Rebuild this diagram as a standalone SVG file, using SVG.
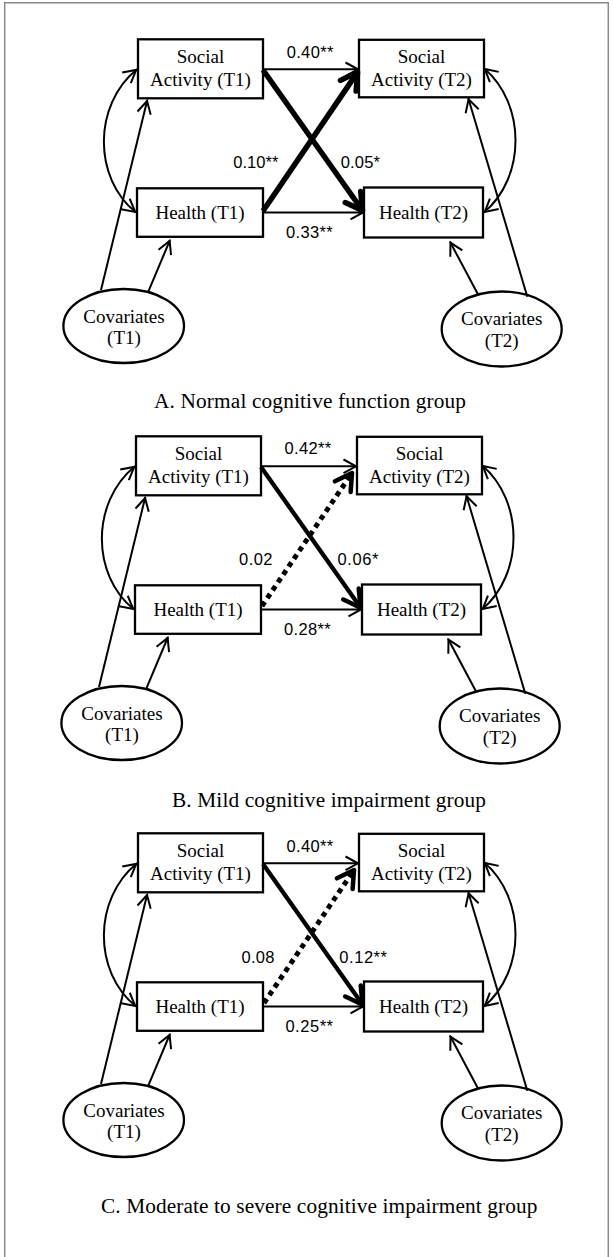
<svg xmlns="http://www.w3.org/2000/svg" width="613" height="1257" viewBox="0 0 613 1257">
<defs>
<style>
.frame{fill:none;stroke:#8a8a8a;stroke-width:1.5}
.box{fill:#fff;stroke:#000;stroke-width:2.3}
.lbl{font-family:"Liberation Serif","Times New Roman",serif;font-size:19px;text-anchor:middle;fill:#000}
.num{font-family:"Liberation Sans",Arial,sans-serif;font-size:16.5px;fill:#000}
.ttl{font-family:"Liberation Serif","Times New Roman",serif;font-size:21.3px;text-anchor:middle;fill:#000}
.c{fill:none;stroke:#000;stroke-width:2}
.thin{marker-end:url(#ah)}
.both{marker-start:url(#ah);marker-end:url(#ah)}
.thk{stroke-width:5.5;marker-end:url(#ahk)}
.med{stroke-width:4.3;marker-end:url(#ahm)}
.dot{stroke-width:5;stroke-dasharray:5 4.5;marker-end:url(#ahm)}
</style>
<marker id="ah" markerUnits="userSpaceOnUse" orient="auto-start-reverse" overflow="visible" markerWidth="1" markerHeight="1" refX="0" refY="0">
<path d="M-13.5,-6.8 L-1,0 L-13.5,6.8" fill="none" stroke="#000" stroke-width="2"/>
</marker>
<marker id="ahk" markerUnits="userSpaceOnUse" orient="auto" overflow="visible" markerWidth="1" markerHeight="1" refX="0" refY="0">
<path d="M-16.5,-9.5 L0,0 L-16.5,9.5" fill="none" stroke="#000" stroke-width="5.5" stroke-linejoin="round" stroke-linecap="round"/>
</marker>
<marker id="ahm" markerUnits="userSpaceOnUse" orient="auto" overflow="visible" markerWidth="1" markerHeight="1" refX="0" refY="0">
<path d="M-16.5,-9.5 L0,0 L-16.5,9.5" fill="none" stroke="#000" stroke-width="4.5" stroke-linejoin="round" stroke-linecap="round"/>
</marker>
</defs>
<rect x="0" y="0" width="613" height="1257" fill="#fff"/>
<path class="frame" d="M4.7,1258 V2.7 H608.3 V1258"/>

<!-- Panel A -->
<g id="panelA">
<g id="A-sa1"><rect class="box" x="138" y="39.3" width="125" height="59"/><text class="lbl" x="200.5" y="63.3">Social</text><text class="lbl" x="200.5" y="86">Activity (T1)</text></g>
<g id="A-sa2"><rect class="box" x="359" y="39.8" width="125" height="57.5"/><text class="lbl" x="421.5" y="63.3">Social</text><text class="lbl" x="421.5" y="86">Activity (T2)</text></g>
<g id="A-h1"><rect class="box" x="137" y="188.3" width="126" height="48.5"/><text class="lbl" x="200" y="219.3">Health (T1)</text></g>
<g id="A-h2"><rect class="box" x="364" y="187.5" width="119" height="50"/><text class="lbl" x="423.5" y="219.3">Health (T2)</text></g>
<g id="A-cov1"><ellipse class="box" cx="123.7" cy="326" rx="60.3" ry="37"/><text class="lbl" x="124" y="323.3">Covariates</text><text class="lbl" x="124" y="344">(T1)</text></g>
<g id="A-cov2"><ellipse class="box" cx="501.7" cy="329" rx="60" ry="37.5"/><text class="lbl" x="501.7" y="325">Covariates</text><text class="lbl" x="501.7" y="346.7">(T2)</text></g>
<g id="A-connectors">
<path class="c thin" d="M263,69.3 H359"/>
<path class="c thin" d="M263,212.5 H364"/>
<path class="c thk" d="M263,70 L362.5,210.5"/>
<path class="c thk" d="M263,211 L357.6,72.1"/>
<path class="c both" d="M137,69.3 C93,105 93,178 136,212.5"/>
<path class="c both" d="M484,68.3 C526,104 526,177 484,212.5"/>
<path class="c thin" d="M101,290 L147.3,100"/>
<path class="c thin" d="M148.3,291.7 L170,240"/>
<path class="c thin" d="M478.3,295 L450,241.7"/>
<path class="c thin" d="M527.3,296.7 L468.3,98.3"/>
</g>
<g id="A-labels">
<text class="num" x="286.7" y="57.7" textLength="46.6">0.40**</text>
<text class="num" x="233.3" y="168.3" textLength="45">0.10**</text>
<text class="num" x="340.7" y="168.3" textLength="39.3">0.05*</text>
<text class="num" x="286" y="238.3" textLength="46.7">0.33**</text>
</g>
</g>

<!-- Panel B -->
<g id="panelB" transform="translate(-2,397)">
<g id="B-sa1"><rect class="box" x="138" y="39.3" width="125" height="59"/><text class="lbl" x="200.5" y="63.3">Social</text><text class="lbl" x="200.5" y="86">Activity (T1)</text></g>
<g id="B-sa2"><rect class="box" x="359" y="39.8" width="125" height="57.5"/><text class="lbl" x="421.5" y="63.3">Social</text><text class="lbl" x="421.5" y="86">Activity (T2)</text></g>
<g id="B-h1"><rect class="box" x="137" y="188.3" width="126" height="48.5"/><text class="lbl" x="200" y="219.3">Health (T1)</text></g>
<g id="B-h2"><rect class="box" x="364" y="187.5" width="119" height="50"/><text class="lbl" x="423.5" y="219.3">Health (T2)</text></g>
<g id="B-cov1"><ellipse class="box" cx="123.7" cy="326" rx="60.3" ry="37"/><text class="lbl" x="124" y="323.3">Covariates</text><text class="lbl" x="124" y="344">(T1)</text></g>
<g id="B-cov2"><ellipse class="box" cx="501.7" cy="329" rx="60" ry="37.5"/><text class="lbl" x="501.7" y="325">Covariates</text><text class="lbl" x="501.7" y="346.7">(T2)</text></g>
<g id="B-connectors">
<path class="c thin" d="M263,69.3 H359"/>
<path class="c thin" d="M263,212.5 H364"/>
<path class="c med" d="M263,70 L362.5,210.5"/>
<path class="c dot" d="M264,209 L354,76"/>
<path class="c both" d="M137,69.3 C93,105 93,178 136,212.5"/>
<path class="c both" d="M484,68.3 C526,104 526,177 484,212.5"/>
<path class="c thin" d="M101,290 L147.3,100"/>
<path class="c thin" d="M148.3,291.7 L170,240"/>
<path class="c thin" d="M478.3,295 L450,241.7"/>
<path class="c thin" d="M527.3,296.7 L468.3,98.3"/>
</g>
<g id="B-labels">
<text class="num" x="286.5" y="57" textLength="46.6">0.42**</text>
<text class="num" x="241" y="168.3" textLength="33.5">0.02</text>
<text class="num" x="339.5" y="168.3" textLength="41">0.06*</text>
<text class="num" x="286" y="238" textLength="46.7">0.28**</text>
</g>
</g>

<!-- Panel C -->
<g id="panelC" transform="translate(0,794)">
<g id="C-sa1"><rect class="box" x="138" y="39.3" width="125" height="59"/><text class="lbl" x="200.5" y="63.3">Social</text><text class="lbl" x="200.5" y="86">Activity (T1)</text></g>
<g id="C-sa2"><rect class="box" x="359" y="39.8" width="125" height="57.5"/><text class="lbl" x="421.5" y="63.3">Social</text><text class="lbl" x="421.5" y="86">Activity (T2)</text></g>
<g id="C-h1"><rect class="box" x="137" y="188.3" width="126" height="48.5"/><text class="lbl" x="200" y="219.3">Health (T1)</text></g>
<g id="C-h2"><rect class="box" x="364" y="187.5" width="119" height="50"/><text class="lbl" x="423.5" y="219.3">Health (T2)</text></g>
<g id="C-cov1"><ellipse class="box" cx="123.7" cy="326" rx="60.3" ry="37"/><text class="lbl" x="124" y="323.3">Covariates</text><text class="lbl" x="124" y="344">(T1)</text></g>
<g id="C-cov2"><ellipse class="box" cx="501.7" cy="329" rx="60" ry="37.5"/><text class="lbl" x="501.7" y="325">Covariates</text><text class="lbl" x="501.7" y="346.7">(T2)</text></g>
<g id="C-connectors">
<path class="c thin" d="M263,69.3 H359"/>
<path class="c thin" d="M263,212.5 H364"/>
<path class="c med" d="M263,70 L362.5,210.5"/>
<path class="c dot" d="M264,209 L354,76"/>
<path class="c both" d="M137,69.3 C93,105 93,178 136,212.5"/>
<path class="c both" d="M484,68.3 C526,104 526,177 484,212.5"/>
<path class="c thin" d="M101,290 L147.3,100"/>
<path class="c thin" d="M148.3,291.7 L170,240"/>
<path class="c thin" d="M478.3,295 L450,241.7"/>
<path class="c thin" d="M527.3,296.7 L468.3,98.3"/>
</g>
<g id="C-labels">
<text class="num" x="286.5" y="57.5" textLength="46.6">0.40**</text>
<text class="num" x="241.6" y="168.5" textLength="32.8">0.08</text>
<text class="num" x="339.3" y="168.5" textLength="47.7">0.12**</text>
<text class="num" x="285.4" y="238" textLength="47.6">0.25**</text>
</g>
</g>

<g id="titles">
<text class="ttl" x="310" y="408" textLength="312">A. Normal cognitive function group</text>
<text class="ttl" x="329" y="806.5" textLength="314">B. Mild cognitive impairment group</text>
<text class="ttl" x="319.2" y="1213" textLength="436.5">C. Moderate to severe cognitive impairment group</text>
</g>
</svg>
